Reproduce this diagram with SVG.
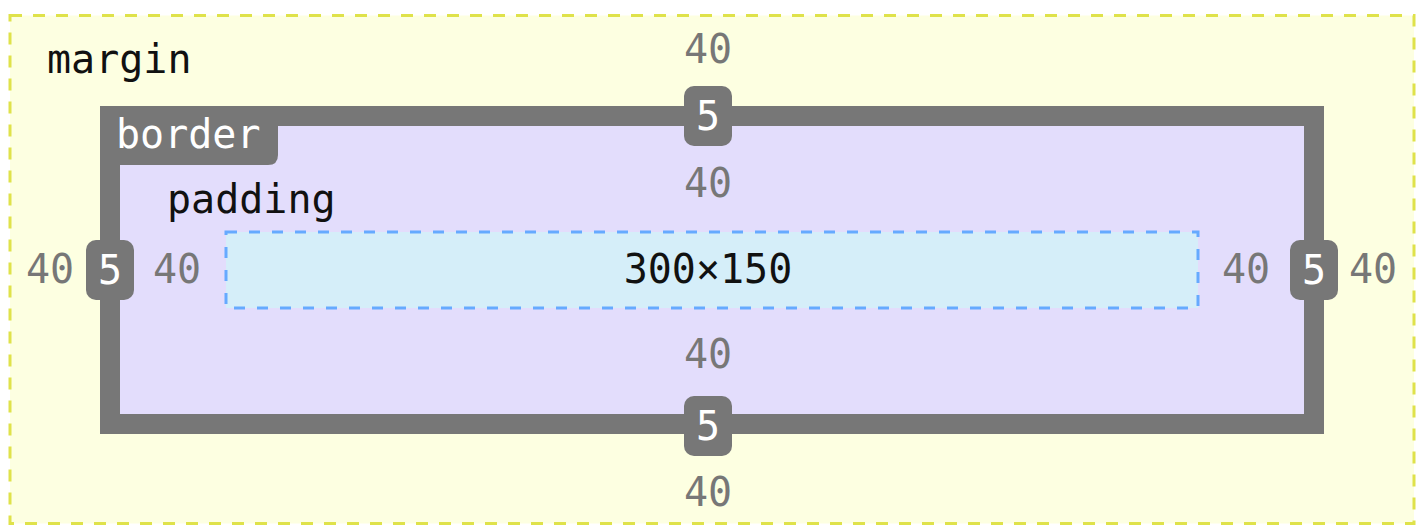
<svg xmlns="http://www.w3.org/2000/svg" width="1420" height="530" viewBox="0 0 1420 530">
<style>
text{font-family:"DejaVu Sans Mono","Liberation Mono",monospace;font-size:40px}
.lbl{fill:#111}
.num{fill:#777;text-anchor:middle}
.bw{fill:#fff;text-anchor:middle}
.badge{fill:#777}
</style>
<rect width="1420" height="530" fill="#ffffff"/>
<g id="margin">
<rect x="10" y="15.5" width="1404" height="508" fill="#fdffe1" stroke="#dfe24a" stroke-width="3" stroke-dasharray="12 11"/>
<text class="lbl" x="47" y="73">margin</text>
<text class="num" x="708" y="63">40</text>
<text class="num" x="708" y="506">40</text>
<text class="num" x="50" y="283">40</text>
<text class="num" x="1373" y="283">40</text>
</g>
<g id="padding">
<rect x="120" y="126" width="1184" height="288" fill="#e3ddfc"/>
<text class="lbl" x="167" y="213">padding</text>
<text class="num" x="708" y="197">40</text>
<text class="num" x="708" y="368">40</text>
<text class="num" x="177" y="283">40</text>
<text class="num" x="1246" y="283">40</text>
</g>
<g id="border">
<rect x="110" y="116" width="1204" height="308" fill="none" stroke="#777" stroke-width="20"/>
<path d="M100,106 H278 V155 Q278,165 268,165 H100 Z" fill="#777"/>
<text x="116" y="148" fill="#fff">border</text>
<rect class="badge" x="684" y="86" width="48" height="60" rx="10"/>
<text class="bw" x="708" y="130">5</text>
<rect class="badge" x="684" y="396" width="48" height="60" rx="10"/>
<text class="bw" x="708" y="440">5</text>
<rect class="badge" x="86" y="240" width="48" height="60" rx="10"/>
<text class="bw" x="110" y="284">5</text>
<rect class="badge" x="1290" y="240" width="48" height="60" rx="10"/>
<text class="bw" x="1314" y="284">5</text>
</g>
<g id="content">
<rect x="226" y="232" width="972" height="76" fill="#d5eef9" stroke="#66aaff" stroke-width="3" stroke-dasharray="11 12"/>
<text class="lbl" x="708" y="283" text-anchor="middle">300×150</text>
</g>
</svg>
